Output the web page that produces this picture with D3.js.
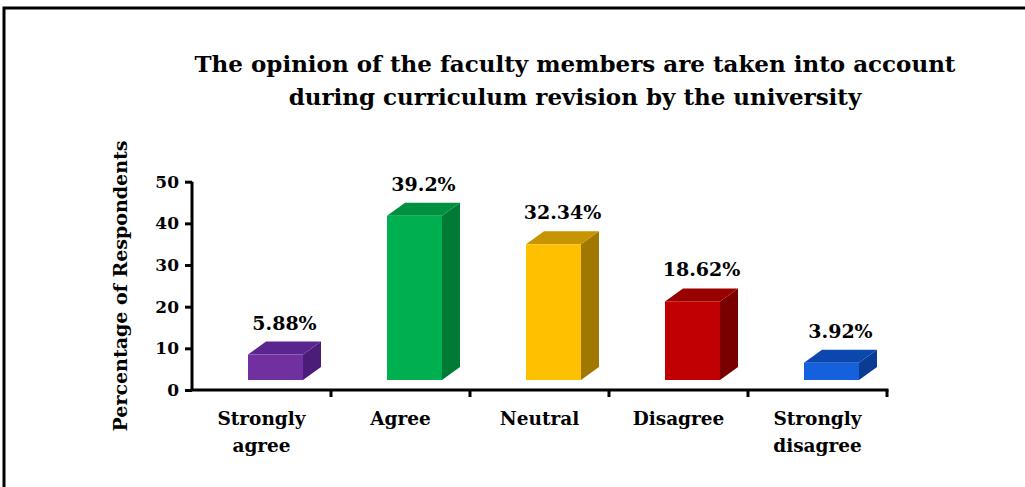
<!DOCTYPE html>
<html><head><meta charset="utf-8">
<script src="https://cdn.jsdelivr.net/npm/d3@7"></script>
<style>html,body{margin:0;padding:0;background:#fff;}svg{display:block;}</style>
</head><body><svg id="chart" width="1025" height="487"></svg>
<script>
const categories = ["Strongly agree", "Agree", "Neutral", "Disagree", "Strongly disagree"];
const categoryLines = [["Strongly", "agree"], ["Agree"], ["Neutral"], ["Disagree"], ["Strongly", "disagree"]];
const values = [5.88, 39.2, 32.34, 18.62, 3.92];
const valueLabels = ["5.88%", "39.2%", "32.34%", "18.62%", "3.92%"];
const yTicks = [0, 10, 20, 30, 40, 50];
const frontColors = ["#7030A0", "#00B050", "#FFC000", "#C00000", "#1560DD"];
const topColors = ["#5B2590", "#009140", "#C79500", "#990000", "#0C47AE"];
const sideColors = ["#4A1E78", "#007A35", "#A07800", "#7A0000", "#0A3C94"];
const titleLines = ["The opinion of the faculty members are taken into account", "during curriculum revision by the university"];
const yTitle = "Percentage of Respondents";

const svg = d3.select("#chart");
const font = "'DejaVu Serif', serif";

// border (left and top visible)
svg.append("path").attr("d", "M4,487 L4,8 L1025,8").attr("fill", "none").attr("stroke", "#000").attr("stroke-width", 3);

const x = d3.scaleBand().domain(categories).range([192, 887]).padding(0);
const y = d3.scaleLinear().domain([0, 50]).range([390, 181.7]);
const floorShift = 10, dx = 18, dy = -13, barOffset = 56, barW = 55;

// bars
const g = svg.append("g");
categories.forEach((c, i) => {
  const x0 = x(c) + barOffset, x1 = x0 + barW;
  const yb = y(0) - floorShift, yt = y(values[i]) - floorShift - 1;
  g.append("path").attr("d", `M${x1},${yb} L${x1 + dx},${yb + dy} L${x1 + dx},${yt + dy} L${x1},${yt} Z`).attr("fill", sideColors[i]);
  g.append("path").attr("d", `M${x0},${yt} L${x0 + dx},${yt + dy} L${x1 + dx},${yt + dy} L${x1},${yt} Z`).attr("fill", topColors[i]);
  g.append("rect").attr("x", x0).attr("y", yt).attr("width", barW).attr("height", yb - yt).attr("fill", frontColors[i]);
  g.append("text").attr("x", x0 + (barW + dx) / 2).attr("y", yt + dy - 12)
    .attr("text-anchor", "middle").attr("font-family", font).attr("font-weight", "bold").attr("font-size", 19)
    .text(valueLabels[i]);
});

// y axis
const yAxis = svg.append("g").attr("transform", "translate(192,0)")
  .call(d3.axisLeft(y).tickValues(yTicks).tickSize(7).tickFormat(d3.format("d")));
yAxis.select(".domain").attr("stroke", "#000").attr("stroke-width", 3).attr("d", `M0,${y(50)}V${y(0)}`);
yAxis.selectAll(".tick line").attr("stroke", "#000").attr("stroke-width", 3);
yAxis.selectAll(".tick text").attr("font-family", font).attr("font-weight", "bold").attr("font-size", 17).attr("fill", "#000").attr("x", -13);

// x axis
const xAxis = svg.append("g").attr("transform", `translate(0,${y(0)})`);
xAxis.append("line").attr("x1", 190.5).attr("x2", 888.5).attr("y1", 0).attr("y2", 0).attr("stroke", "#000").attr("stroke-width", 3);
const bounds = categories.map(c => x(c)).concat([x.range()[1]]);
xAxis.selectAll(".xt").data(bounds.slice(1)).join("line").attr("class", "xt")
  .attr("x1", d => d).attr("x2", d => d).attr("y1", 0).attr("y2", 7).attr("stroke", "#000").attr("stroke-width", 3);
categories.forEach((c, i) => {
  const t = xAxis.append("text").attr("x", x(c) + x.bandwidth() / 2).attr("y", 35)
    .attr("text-anchor", "middle").attr("font-family", font).attr("font-weight", "bold").attr("font-size", 18.5);
  categoryLines[i].forEach((ln, k) => t.append("tspan").attr("x", x(c) + x.bandwidth() / 2).attr("dy", k === 0 ? 0 : 27).text(ln));
});

// y title
svg.append("text").attr("transform", "translate(127,286) rotate(-90)").attr("text-anchor", "middle")
  .attr("font-family", font).attr("font-weight", "bold").attr("font-size", 19).text(yTitle);

// title
titleLines.forEach((t, k) => {
  svg.append("text").attr("x", 575).attr("y", 72 + k * 33).attr("text-anchor", "middle")
    .attr("font-family", font).attr("font-weight", "bold").attr("font-size", 23).text(t);
});
</script></body></html>
